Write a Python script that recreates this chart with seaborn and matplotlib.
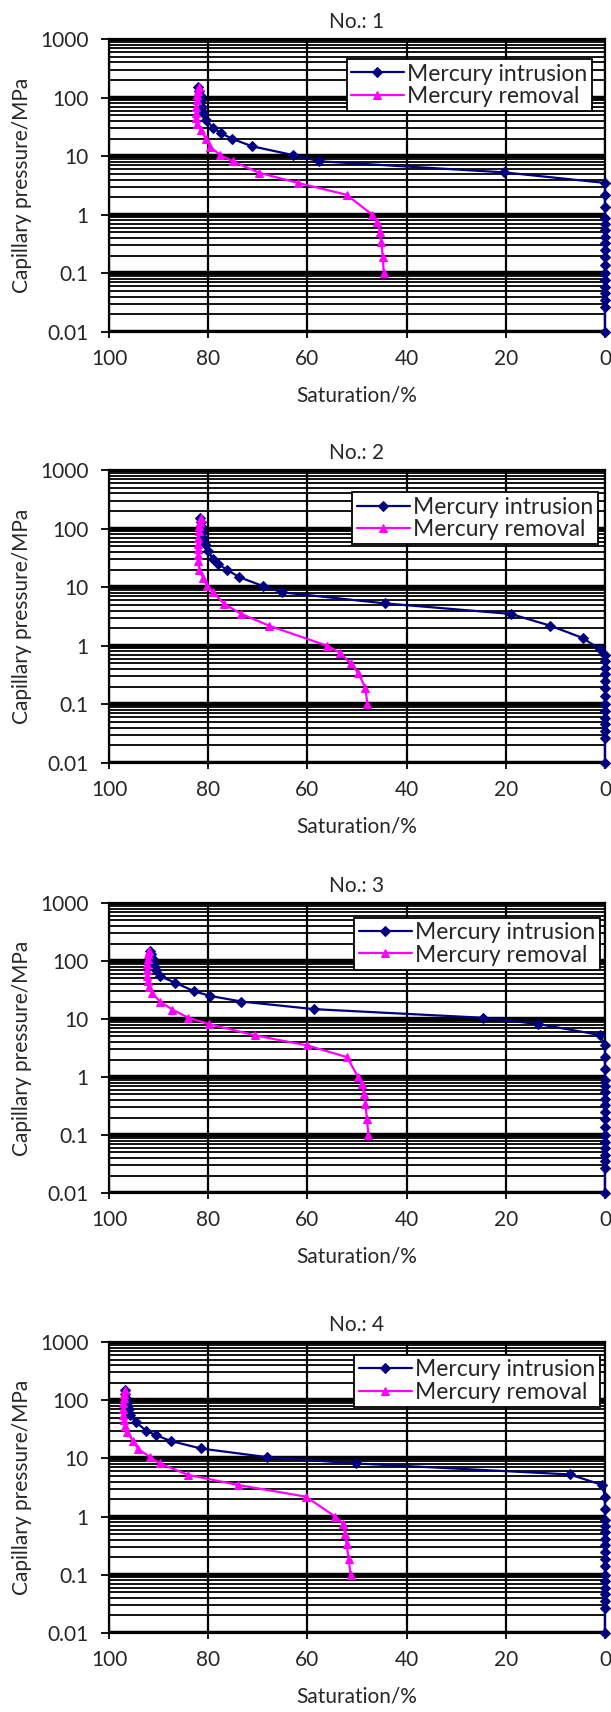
import matplotlib
matplotlib.use("Agg")
from matplotlib import pyplot as plt
from matplotlib.ticker import LogLocator, FixedLocator, FuncFormatter, NullFormatter
import numpy as np
import pandas as pd
import seaborn as sns

sns.set_theme(style="white")
plt.rcParams["font.family"] = ["Lato", "DejaVu Sans"]

sample_names = ["No.: 1", "No.: 2", "No.: 3", "No.: 4"]

# pressure steps, MPa
intrusion_pressure = [0.01, 0.027, 0.035, 0.046, 0.059, 0.077, 0.10, 0.14, 0.19, 0.25,
                      0.33, 0.42, 0.55, 0.69, 0.88, 1.36, 2.2, 3.5, 5.3, 8.2,
                      10.5, 14.8, 20, 25, 30, 42, 55, 70, 90, 110, 130, 150]
removal_pressure = [150, 130, 110, 90, 70, 55, 45, 36, 28, 20, 14.5,
                    10.5, 8.2, 5.2, 3.5, 2.2, 1.0, 0.76, 0.5, 0.34, 0.19, 0.1]

# mercury saturation, %
intrusion_sat_1 = [0, 0, 0, 0, 0, 0, 0, 0, 0, 0, 0, 0, 0, 0, 0, 0, 0, 0,
                   20.4, 57.6, 63.0, 71.2, 75.3, 77.5, 79.0, 80.4, 81.0, 81.3, 81.5, 81.7, 81.8, 82.0]
intrusion_sat_2 = [0, 0, 0, 0, 0, 0, 0, 0, 0, 0, 0, 0, 0, 0,
                   1.1, 4.5, 11.0, 19.0, 44.4, 65.2, 69.0, 73.7, 76.3, 78.0, 79.0, 80.1, 80.6, 81.0,
                   81.2, 81.4, 81.5, 81.6]
intrusion_sat_3 = [0, 0, 0, 0, 0, 0, 0, 0, 0, 0, 0, 0, 0, 0, 0, 0, 0, 0,
                   1.0, 13.5, 24.6, 58.7, 73.3, 79.6, 82.8, 86.6, 89.8, 90.5, 90.9, 91.2, 91.5, 91.7]
intrusion_sat_4 = [0, 0, 0, 0, 0, 0, 0, 0, 0, 0, 0, 0, 0, 0, 0, 0, 0,
                   0.6, 7.1, 50.3, 68.1, 81.5, 87.6, 90.5, 92.5, 94.6, 95.7, 96.0, 96.3, 96.5, 96.7, 96.8]

removal_sat_1 = [81.9, 82.1, 82.2, 82.3, 82.4, 82.4, 82.4, 82.3, 81.5, 80.5, 79.6,
                 77.6, 75.1, 69.7, 61.9, 52.1, 46.9, 45.9, 45.4, 45.1, 44.8, 44.6]
removal_sat_2 = [81.5, 81.7, 81.8, 81.9, 82.0, 82.0, 82.0, 82.0, 82.0, 81.8, 81.0,
                 80.2, 79.0, 76.8, 73.3, 67.7, 56.0, 53.4, 51.3, 49.7, 48.3, 47.9]
removal_sat_3 = [92.0, 92.1, 92.2, 92.3, 92.3, 92.3, 92.2, 92.0, 91.3, 89.7, 87.2,
                 84.0, 79.9, 70.5, 60.0, 52.0, 49.8, 49.0, 48.6, 48.3, 48.0, 47.7]
removal_sat_4 = [96.8, 96.9, 97.0, 97.1, 97.1, 97.1, 97.0, 96.8, 96.3, 95.2, 94.1,
                 91.7, 89.8, 84.0, 74.0, 60.3, 54.4, 52.8, 52.4, 52.1, 51.7, 51.3]

intrusion_sats = [intrusion_sat_1, intrusion_sat_2, intrusion_sat_3, intrusion_sat_4]
removal_sats = [removal_sat_1, removal_sat_2, removal_sat_3, removal_sat_4]

# layout in pixels (figure is 611 x 1712)
W, H = 611, 1712
ax_left, ax_right = 109, 605
ax_tops = [39, 470, 903, 1342]
ax_bottoms = [332, 763, 1193, 1633]
legend_anchors = [(0.974, 0.932), (0.986, 0.925), (0.99, 0.949), (0.99, 0.956)]

INTRUSION_COLOR = "#000080"
REMOVAL_COLOR = "#FF00FF"

fig = plt.figure(figsize=(W / 100, H / 100), dpi=100)

for i, name in enumerate(sample_names):
    ax = fig.add_axes([ax_left / W, 1 - ax_bottoms[i] / H,
                       (ax_right - ax_left) / W, (ax_bottoms[i] - ax_tops[i]) / H])
    df_in = pd.DataFrame({"saturation": intrusion_sats[i], "pressure": intrusion_pressure})
    df_out = pd.DataFrame({"saturation": removal_sats[i], "pressure": removal_pressure})

    sns.lineplot(data=df_in, x="saturation", y="pressure", ax=ax, estimator=None, sort=False,
                 color=INTRUSION_COLOR, marker="D", markersize=5, mec=INTRUSION_COLOR,
                 lw=1.6, label="Mercury intrusion", clip_on=False, zorder=3)
    sns.lineplot(data=df_out, x="saturation", y="pressure", ax=ax, estimator=None, sort=False,
                 color=REMOVAL_COLOR, marker="^", markersize=6, mec=REMOVAL_COLOR,
                 lw=1.6, label="Mercury removal", clip_on=False, zorder=4)

    ax.set_yscale("log")
    ax.set_ylim(0.01, 1000)
    ax.set_xlim(100, 0)
    ax.set_axisbelow(True)

    ax.yaxis.set_major_locator(FixedLocator([0.01, 0.1, 1, 10, 100, 1000]))
    ax.yaxis.set_major_formatter(FuncFormatter(lambda v, p: f"{v:g}"))
    ax.yaxis.set_minor_locator(LogLocator(base=10, subs=range(2, 10), numticks=20))
    ax.yaxis.set_minor_formatter(NullFormatter())
    ax.xaxis.set_major_locator(FixedLocator([100, 80, 60, 40, 20, 0]))

    ax.grid(which="major", axis="y", color="black", lw=3.2)
    ax.grid(which="minor", axis="y", color="black", lw=1.3)
    ax.grid(which="major", axis="x", color="black", lw=1.6)

    for side in ["left", "bottom", "top", "right"]:
        ax.spines[side].set_visible(True)
        ax.spines[side].set_color("black")
        ax.spines[side].set_linewidth(1.6)

    ax.tick_params(axis="y", which="major", direction="out", length=5.5, width=1.3,
                   color="black", pad=9, labelsize=15, left=True)
    ax.tick_params(axis="y", which="minor", length=0)
    ax.tick_params(axis="x", which="major", direction="out", length=4, width=1.3,
                   color="black", pad=8, labelsize=15, bottom=True)

    ax.set_title(name, fontsize=15, pad=8)
    ax.set_xlabel("Saturation/%", fontsize=15, labelpad=12)
    ax.set_ylabel("Capillary pressure/MPa", fontsize=15, labelpad=6)

    leg = ax.legend(loc="upper right", bbox_to_anchor=legend_anchors[i], frameon=True,
                    fancybox=False, edgecolor="black", framealpha=1, fontsize=16.5,
                    handlelength=2.3, borderpad=0.2, labelspacing=0.05,
                    handletextpad=0.15, borderaxespad=0)
    leg.get_frame().set_linewidth(1.3)
    leg.set_zorder(10)

fig.savefig("out.png", dpi=100)
